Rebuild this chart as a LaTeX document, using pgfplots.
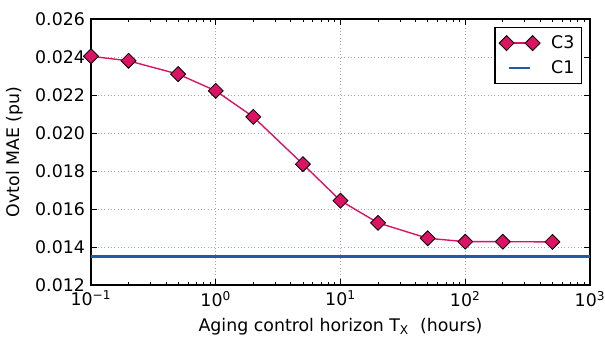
\documentclass[border=0pt]{standalone}
\usepackage{fontspec}
\setmainfont{DejaVu Sans}
\usepackage{pgfplots}
\pgfplotsset{compat=1.18}
\definecolor{cthree}{RGB}{220,18,100}
\definecolor{cone}{RGB}{32,92,165}
\pgfplotsset{
  legA/.style={legend image code/.code={\draw[##1] plot coordinates {(0cm,0cm) (0.66cm,0cm)};}},
  legB/.style={legend image code/.code={\draw[##1] (0.06cm,0cm) -- (0.6cm,0cm);}},
}
\begin{document}
\fontsize{12.5}{15}\selectfont
\begin{tikzpicture}
\useasboundingbox (-65.5pt,-41pt) rectangle (370.1pt,205.2pt);
\begin{axis}[
  at={(0pt,0pt)}, anchor=south west,
  scale only axis,
  width=359.3pt, height=191.5pt,
  xmode=log,
  xmin=0.1, xmax=1000,
  ymin=0.012, ymax=0.026,
  xtick={0.1,1,10,100,1000},
  xticklabels={10\textsuperscript{−1},10\textsuperscript{0},10\textsuperscript{1},10\textsuperscript{2},10\textsuperscript{3}},
  ytick={0.012,0.014,0.016,0.018,0.020,0.022,0.024,0.026},
  yticklabels={0.012,0.014,0.016,0.018,0.020,0.022,0.024,0.026},
  scaled y ticks=false,
  tick pos=both,
  tick align=inside,
  major tick length=4.2pt,
  minor tick length=2.1pt,
  every tick/.style={black, line width=0.6pt},
  axis line style={black, line width=1pt},
  grid=major,
  major grid style={dotted, gray!70, line width=0.6pt},
  xlabel={Aging control horizon T\textsubscript{X}\ \ (hours)},
  ylabel={Ovtol MAE (pu)},
  tick label style={font=\fontsize{12.5}{15}\selectfont},
  label style={font=\fontsize{12.5}{15}\selectfont},
  legend style={at={(0.984,0.97)}, anchor=north east, draw=black, line width=1pt,
    font=\fontsize{12.5}{15}\selectfont, row sep=3pt, column sep=6pt, inner xsep=3pt, inner ysep=3.5pt},
  legend cell align=left,
]
\addplot[cthree, line width=1pt, mark=square*, mark size=3.8pt,
  mark options={rotate=45, fill=cthree, draw=black, line width=0.6pt}, legA]
  coordinates {
  (0.1,0.02404) (0.2,0.02380) (0.5,0.02310) (1,0.02222) (2,0.02085)
  (5,0.01836) (10,0.01644) (20,0.01527) (50,0.01446) (100,0.01428)
  (200,0.01428) (500,0.01427)
  };
\addlegendentry{C3}
\addplot[cone, line width=1.5pt, legB]
  coordinates {(0.1,0.0135) (1000,0.0135)};
\addlegendentry{C1}
\end{axis}
\end{tikzpicture}
\end{document}
